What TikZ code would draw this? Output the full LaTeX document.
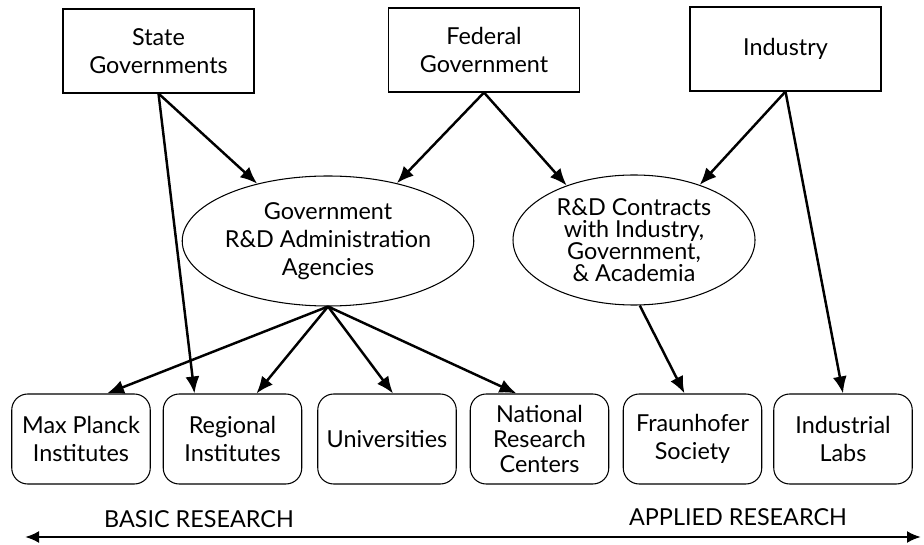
\documentclass[tikz,border=0pt]{standalone}
\usepackage{fontspec}
\setmainfont{Lato}
\usetikzlibrary{shapes.geometric, arrows.meta, positioning, calc}

\begin{document}
\begin{tikzpicture}[
    txt/.style={font=\fontsize{13.3}{16}\selectfont, align=center},
    srcbox/.style={txt, draw, line width=0.6pt, minimum width=3.82cm, minimum height=1.68cm},
    agency/.style={txt, draw, ellipse, line width=0.6pt, minimum width=4.84cm, minimum height=2.6cm, inner sep=0pt},
    org/.style={txt, draw, rounded corners=0.32cm, line width=0.6pt, minimum width=2.77cm, minimum height=1.8cm, inner sep=1pt},
    arrow/.style={-{Latex[length=3.4mm, width=2.8mm]}, line width=1.4pt}
]
    \useasboundingbox (0,0) rectangle (18.48,10.88);

    % Geldgeber
    \node[srcbox] (state) at (3.17, 9.86) {State\\Governments};
    \node[srcbox] (federal) at (9.68, 9.88) {Federal\\Government};
    \node[srcbox] (industry) at (15.71, 9.90) {Industry};

    % Vermittler
    \node[agency] (gov) at (6.56, 6.06) {Government\\R\&D Administration\\Agencies};
    \node[agency, font=\fontsize{13.3}{12.5}\selectfont] (contracts) at (12.68, 6.08) {R\&D Contracts\\with Industry,\\Government,\\\& Academia};

    % Forschungseinrichtungen
    \node[org] (maxp) at (1.62, 2.10) {Max Planck\\Institutes};
    \node[org] (regional) at (4.65, 2.10) {Regional\\Institutes};
    \node[org] (univ) at (7.74, 2.10) {Universities};
    \node[org, font=\fontsize{13.3}{14}\selectfont] (national) at (10.79, 2.10) {National\\Research\\Centers};
    \node[org] (fraunhofer) at (13.85, 2.10) {Fraunhofer\\Society};
    \node[org] (labs) at (16.86, 2.10) {Industrial\\Labs};

    % Pfeile
    \draw[arrow] (state.south) -- (gov.141);
    \draw[arrow] (state.south) -- ([xshift=-0.76cm]regional.north);
    \draw[arrow] (federal.south) -- (gov.40);
    \draw[arrow] (federal.south) -- (contracts.141);
    \draw[arrow] (industry.south) -- (contracts.40);
    \draw[arrow] (industry.south) -- (labs.north);
    \draw[arrow] (gov.south) -- ([xshift=0.52cm]maxp.north);
    \draw[arrow] (gov.south) -- ([xshift=0.48cm]regional.north);
    \draw[arrow] (gov.south) -- ([xshift=0.12cm]univ.north);
    \draw[arrow] (gov.south) -- ([xshift=-0.46cm]national.north);
    \draw[arrow] (contracts.-85) -- ([xshift=-0.16cm]fraunhofer.north);

    % Achse
    \coordinate (basicend) at (0.5, 0.14);
    \coordinate (appliedend) at (18.42, 0.14);
    \draw[{Latex[length=2.8mm, width=2.4mm]}-{Latex[length=2.8mm, width=2.4mm]}, line width=1.4pt] (basicend) -- (appliedend);
    \node[txt] (basic) at (3.98, 0.50) {BASIC RESEARCH};
    \node[txt] (applied) at (14.76, 0.54) {APPLIED RESEARCH};
\end{tikzpicture}
\end{document}
